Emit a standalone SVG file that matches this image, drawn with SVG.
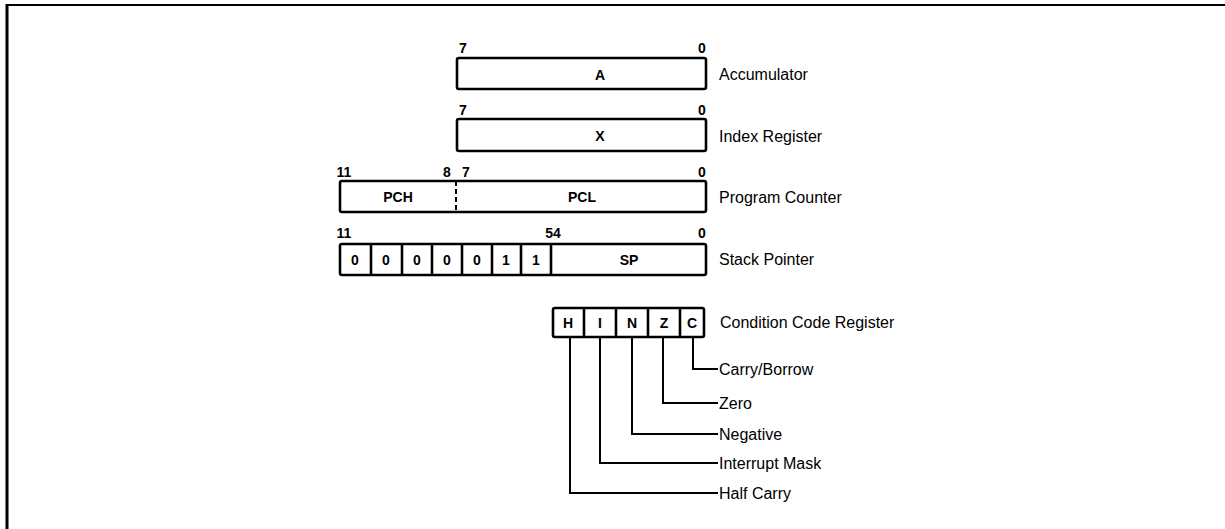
<svg xmlns="http://www.w3.org/2000/svg" width="1225" height="529" viewBox="0 0 1225 529">
<style>
.box{fill:#fff;stroke:#000;stroke-width:2.6}
.div{stroke:#000;stroke-width:2.6;fill:none}
.ln{stroke:#000;stroke-width:2;fill:none}
.t{font-family:"Liberation Sans",Arial,sans-serif;font-size:16px;fill:#000}
.b{font-family:"Liberation Sans",Arial,sans-serif;font-size:14px;font-weight:bold;fill:#000}
.m{text-anchor:middle}
</style>
<rect width="1225" height="529" fill="#fff"/>
<g id="frame">
<line x1="6" y1="5" x2="1225" y2="5" stroke="#000" stroke-width="2"/>
<line x1="7" y1="4" x2="7" y2="529" stroke="#000" stroke-width="3"/>
</g>
<g id="accumulator">
<rect class="box" x="457" y="58" width="249" height="31" rx="2"/>
<text class="b m" x="463" y="53">7</text>
<text class="b m" x="702" y="53">0</text>
<text class="b m" x="600" y="80">A</text>
<text class="t" x="719" y="80">Accumulator</text>
</g>
<g id="index-register">
<rect class="box" x="457" y="119" width="249" height="32" rx="2"/>
<text class="b m" x="463" y="115">7</text>
<text class="b m" x="702" y="115">0</text>
<text class="b m" x="600" y="141">X</text>
<text class="t" x="719" y="142">Index Register</text>
</g>
<g id="program-counter">
<rect class="box" x="340" y="181" width="366" height="31" rx="2"/>
<line x1="456" y1="181" x2="456" y2="212" stroke="#000" stroke-width="2" stroke-dasharray="5,3"/>
<text class="b m" x="344" y="177">11</text>
<text class="b m" x="447" y="177">8</text>
<text class="b m" x="466" y="177">7</text>
<text class="b m" x="702" y="177">0</text>
<text class="b m" x="398" y="202">PCH</text>
<text class="b m" x="582" y="202">PCL</text>
<text class="t" x="719" y="203">Program Counter</text>
</g>
<g id="stack-pointer">
<rect class="box" x="340" y="244" width="366" height="31" rx="2"/>
<path class="div" d="M371 244V275M402 244V275M432 244V275M462 244V275M492 244V275M521 244V275M551 244V275"/>
<text class="b m" x="344" y="238">11</text>
<text class="b m" x="553" y="238">54</text>
<text class="b m" x="702" y="238">0</text>
<text class="b m" x="355" y="265">0</text>
<text class="b m" x="386" y="265">0</text>
<text class="b m" x="417" y="265">0</text>
<text class="b m" x="447" y="265">0</text>
<text class="b m" x="477" y="265">0</text>
<text class="b m" x="506" y="265">1</text>
<text class="b m" x="536" y="265">1</text>
<text class="b m" x="629" y="265">SP</text>
<text class="t" x="719" y="265">Stack Pointer</text>
</g>
<g id="ccr">
<rect class="box" x="553" y="308" width="151" height="29" rx="2"/>
<path class="div" d="M584 308V337M616 308V337M648 308V337M680 308V337"/>
<text class="b m" x="568" y="328">H</text>
<text class="b m" x="600" y="328">I</text>
<text class="b m" x="632" y="328">N</text>
<text class="b m" x="664" y="328">Z</text>
<text class="b m" x="692" y="328">C</text>
<text class="t" x="720" y="328">Condition Code Register</text>
</g>
<g id="connectors">
<path class="ln" d="M693 337V369H718"/>
<path class="ln" d="M663 337V403H718"/>
<path class="ln" d="M632 337V434H718"/>
<path class="ln" d="M600 337V463H718"/>
<path class="ln" d="M570 337V493H718"/>
</g>
<g id="flag-labels">
<text class="t" x="719" y="375">Carry/Borrow</text>
<text class="t" x="719" y="409">Zero</text>
<text class="t" x="719" y="440">Negative</text>
<text class="t" x="719" y="469">Interrupt Mask</text>
<text class="t" x="719" y="499">Half Carry</text>
</g>
</svg>
